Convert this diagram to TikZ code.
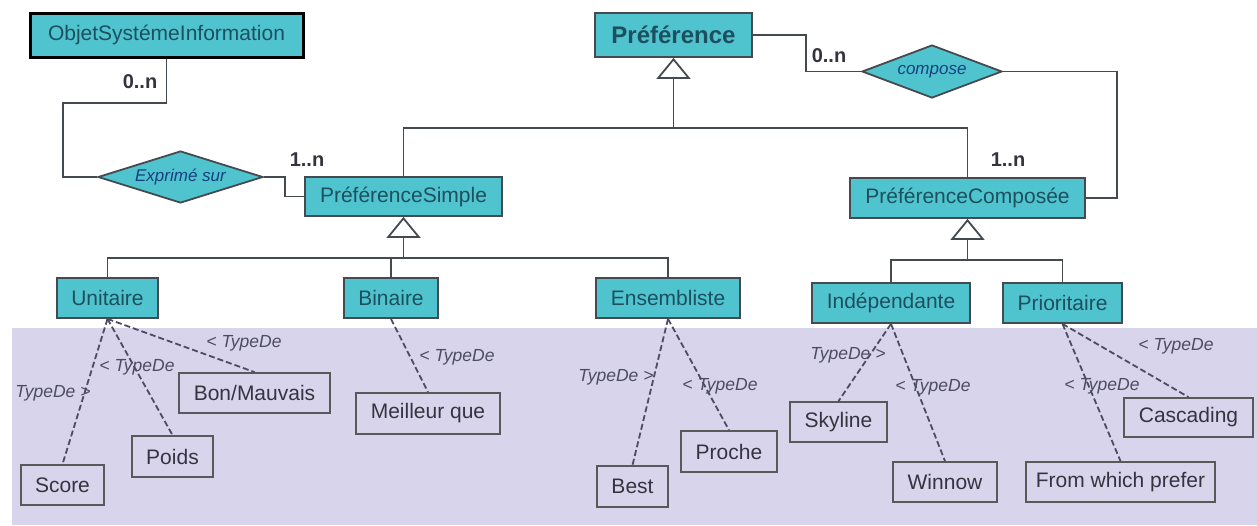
\documentclass[tikz,border=0pt]{standalone}
\usepackage{fontspec}
\setmainfont{Liberation Sans}
\usepackage{xcolor}
\usepackage{tikz}
\usetikzlibrary{positioning}
\usetikzlibrary{arrows.meta,shapes.geometric}

\definecolor{turquoise}{HTML}{4FC4CF}
\definecolor{lavande}{HTML}{D8D4EC}
\definecolor{encre}{HTML}{1D4F5F}
\definecolor{lignes}{HTML}{454A50}
\definecolor{gristxt}{HTML}{34343F}
\definecolor{grislbl}{HTML}{4C4C64}

\begin{document}
\begin{tikzpicture}[x=1pt,y=-1pt]
	\tikzset{classe/.style={rectangle,draw=lignes,fill=turquoise,line width=1.8pt,
			inner sep=0pt,text=encre,font=\fontsize{21}{25}\selectfont},
		feuille/.style={rectangle,draw=gray!70!black,fill=lavande,line width=1.8pt,
			inner sep=0pt,text=gristxt,font=\fontsize{21}{25}\selectfont},
		relation/.style={diamond,draw=lignes,fill=turquoise,line width=1.8pt,
			inner sep=0pt,text=encre!80!blue,font=\fontsize{17}{20}\selectfont\itshape},
		card/.style={text=gristxt,font=\fontsize{20}{24}\selectfont\bfseries},
		typelbl/.style={text=grislbl,font=\fontsize{17.5}{21}\selectfont\itshape},
		lien/.style={draw=lignes,line width=1.8pt},
		typede/.style={draw=grislbl,line width=1.8pt,dash pattern=on 6pt off 3pt},
		herite/.style={draw=lignes,line width=1.8pt,
			-{Triangle[open,fill=white,length=21pt,width=34pt]}}}

\useasboundingbox (0,0) rectangle (1257,525);

\fill[lavande] (12,328) rectangle (1257,525);

\node[classe,line width=3pt,draw=black,minimum width=273pt,minimum height=44pt] (obj) at (166.5,35) {ObjetSystémeInformation};

\node[classe,minimum width=157pt,minimum height=44pt,font=\fontsize{24}{28}\selectfont\bfseries] (pref) at (673.5,35) {Préférence};

\node[classe,minimum width=197pt,minimum height=39pt] (prefS) at (403.5,196.5) {PréférenceSimple};

\node[classe,minimum width=235pt,minimum height=40pt] (prefC) at (967.5,198) {PréférenceComposée};

\node[relation,aspect=3.2,minimum width=165pt,minimum height=52pt] (exprime) at (180.5,177) {Exprimé sur};

\node[relation,aspect=2.6,minimum width=140pt,minimum height=53pt] (compose) at (932,71.5) {compose};

\node[classe,minimum width=101pt,minimum height=40pt] (unit) at (107.5,298) {Unitaire};
\node[classe,minimum width=94pt,minimum height=40pt] (bin) at (391,298) {Binaire};
\node[classe,minimum width=144pt,minimum height=40pt] (ens) at (668,298) {Ensembliste};
\node[classe,minimum width=158pt,minimum height=40pt] (indep) at (891,303) {Indépendante};
\node[classe,minimum width=119pt,minimum height=40pt] (prio) at (1062.5,303) {Prioritaire};

\node[feuille,minimum width=83pt,minimum height=40pt] (score) at (62.5,485) {Score};
\node[feuille,minimum width=81pt,minimum height=41pt] (poids) at (172.5,456.5) {Poids};
\node[feuille,minimum width=151pt,minimum height=40pt] (bon) at (254.5,393) {Bon/Mauvais};
\node[feuille,minimum width=144pt,minimum height=41pt] (meil) at (428,413.5) {Meilleur que};
\node[feuille,minimum width=71pt,minimum height=41pt] (best) at (632.5,486.5) {Best};
\node[feuille,minimum width=96pt,minimum height=41pt] (proche) at (729,451.5) {Proche};
\node[feuille,minimum width=97pt,minimum height=40pt] (sky) at (838.5,422) {Skyline};
\node[feuille,minimum width=104pt,minimum height=40pt] (winnow) at (945,482) {Winnow};
\node[feuille,minimum width=189pt,minimum height=40pt] (from) at (1120.5,482) {From which prefer};
\node[feuille,minimum width=129pt,minimum height=39pt] (casc) at (1188.5,417.5) {Cascading};

\coordinate (c1) at (63,103);
\coordinate (c2) at (285,187);
\coordinate (c3) at (806,50);
\coordinate (c4) at (1117,130);
\coordinate (j1) at (673.5,128);
\coordinate (j2) at (403.5,258);
\coordinate (j3) at (967.5,260);

\draw[lien] (obj.south) |- (c1) |- (exprime.west);
\draw[lien] (exprime.east) -| (c2) |- (prefS.west);
\draw[lien] (pref.east) -| (c3) |- (compose.west);
\draw[lien] (compose.east) -| (c4) |- (prefC.east);

\node[card] (n1) at (140,82) {0..n};
\node[card] (n2) at (307,160) {1..n};
\node[card] (n3) at (829,56) {0..n};
\node[card] (n4) at (1008,160) {1..n};

\draw[lien] (prefS.north) |- (j1) -| (prefC.north);
\draw[herite] (j1) -- (pref.south);

\draw[lien] (unit.north) |- (j2) -| (ens.north);
\draw[lien] (bin.north) -- (bin.north |- j2);
\draw[herite] (j2) -- (prefS.south);

\draw[lien] (indep.north) |- (j3) -| (prio.north);
\draw[herite] (j3) -- (prefC.south);

\draw[typede] (unit.south) -- (score.north);
\draw[typede] (unit.south) -- (poids.north);
\draw[typede] (unit.south) -- (bon.north);
\draw[typede] (bin.south) -- (meil.north);
\draw[typede] (ens.south) -- (best.north);
\draw[typede] (ens.south) -- (proche.north);
\draw[typede] (indep.south) -- (sky.north);
\draw[typede] (indep.south) -- (winnow.north);
\draw[typede] (prio.south) -- (from.north);
\draw[typede] (prio.south) -- (casc.north);

\node[typelbl] (t1) at (53,393) {TypeDe >};
\node[typelbl] (t2) at (137,367) {< TypeDe};
\node[typelbl] (t3) at (244,343) {< TypeDe};
\node[typelbl] (t4) at (457,357) {< TypeDe};
\node[typelbl] (t5) at (616,377) {TypeDe >};
\node[typelbl] (t6) at (720,386) {< TypeDe};
\node[typelbl] (t7) at (848,355) {TypeDe >};
\node[typelbl] (t8) at (933,387) {< TypeDe};
\node[typelbl] (t9) at (1102,386) {< TypeDe};
\node[typelbl] (t10) at (1176,346) {< TypeDe};
\end{tikzpicture}
\end{document}
